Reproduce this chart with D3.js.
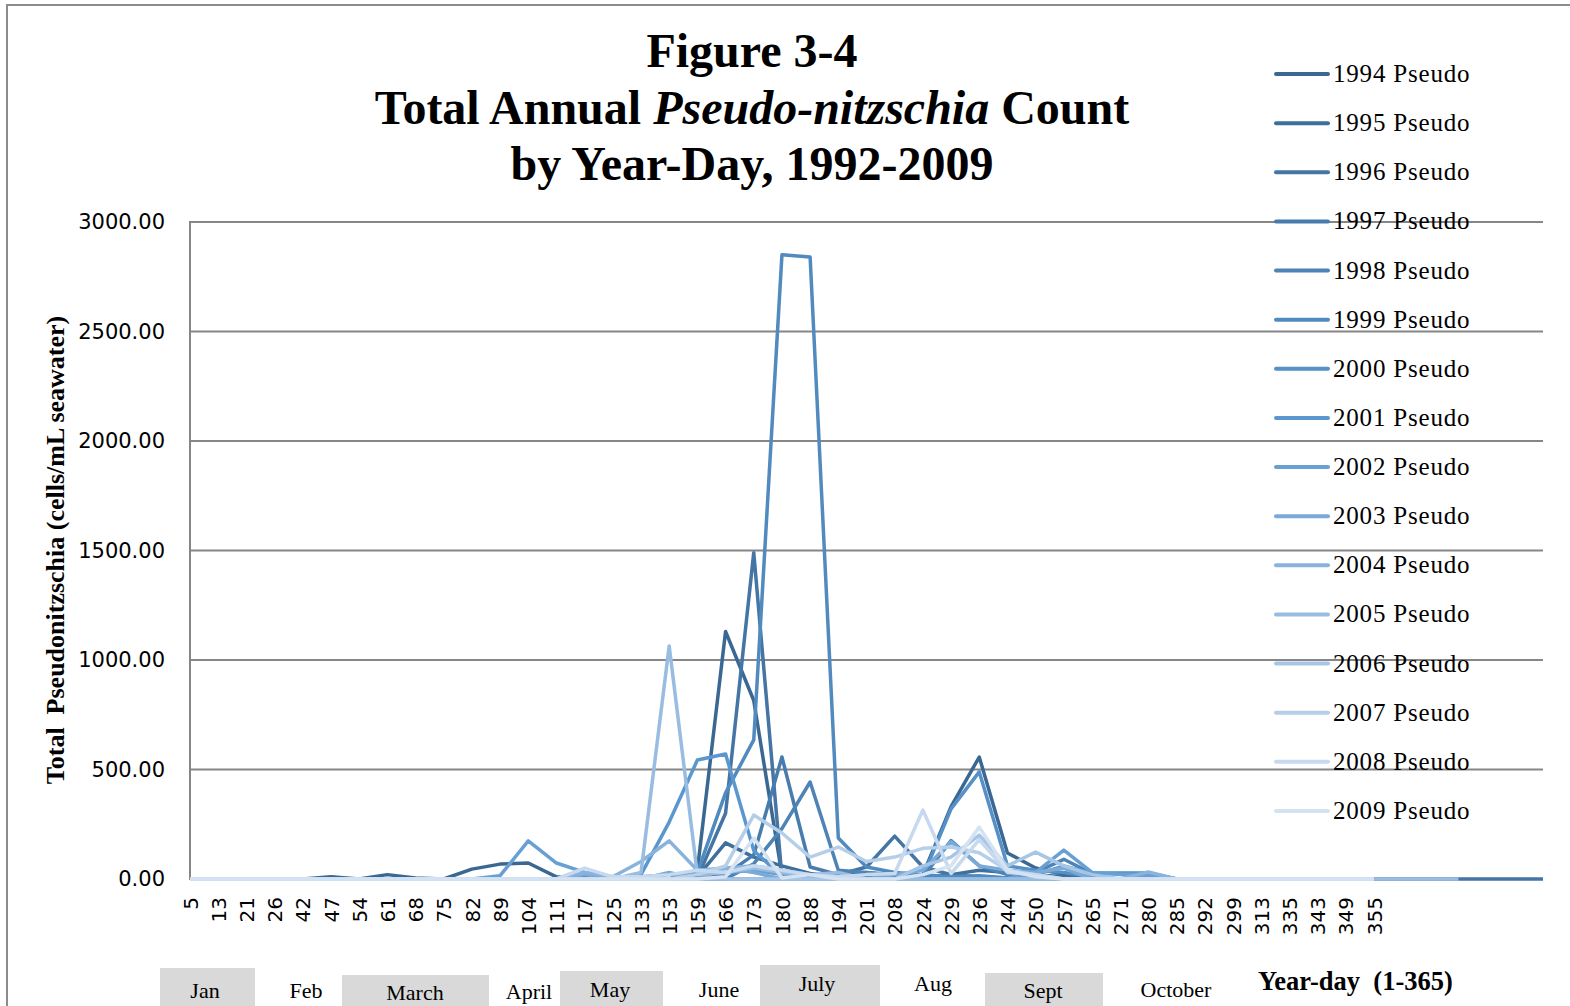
<!DOCTYPE html>
<html>
<head>
<meta charset="utf-8">
<script src="https://cdn.jsdelivr.net/npm/d3@7"></script>
<style>
  body { margin: 0; background: #fff; }
  svg { display: block; }
  text { white-space: pre; }
</style>
</head>
<body>
<svg id="chart" width="1570" height="1006"></svg>
<script>
// year-day categories (the last six are blank in the sheet)
const dayLabels = ["5","13","21","26","42","47","54","61","68","75","82","89","104","111","117","125","133","153","159","166","173","180","188","194","201","208","224","229","236","244","250","257","265","271","280","285","292","299","313","335","343","349","355","","","","","",""];

const years = ["1994","1995","1996","1997","1998","1999","2000","2001","2002","2003","2004","2005","2006","2007","2008","2009"];

//            5 13 21 26 42 47 54 61 68 75 | 82 89 104 111 117 125 133 153 159 166 | 173 180 188 194 201 208 224 229 236 244 | 250 257 265 271 280 285 292 299 313 335 | 343 349 355 ...
const s1994 = [0, 0, 0, 0, 0,10, 0,20, 5, 0,  45,68, 73, 10,  5,  0,  0,  0, 40,1130, 815, 20, 10,  5,  5, 10, 20,330,557,119,  50, 20,  5,  0,  0,  0,  0,  0,  0,  0,   0,  0,  0];
const s1995 = [0, 0, 0, 0, 0, 0, 0, 0, 0, 0,   0, 0,  0,  0,  0,  0,  0,  0, 10, 165, 100, 60, 25, 10, 30, 15, 10, 20, 40, 30,  20, 10,  0,  0,  0,  0,  0,  0,  0,  0,   0,  0,  0];
const s1996 = [0, 0, 0, 0, 0, 0, 0, 0, 0, 0,   0, 0,  0,  0, 10,  0,  0,  0,  5, 300,1490, 10, 15, 20, 55,196, 55, 20, 10,  5,   0,  0,  0,  0,  0,  0,  0,  0,  0,  0,   0,  0,  0, 0, 0, 0, 0, 0, 0];
const s1997 = [0, 0, 0, 0, 0, 0, 0, 0, 0, 0,   0, 0,  0,  0,  0,  0,  0,  0,  0,  20, 110,557, 55, 20, 10,  5,  5, 10,  5,  0,   0,  0,  0,  0,  0,  0,  0,  0,  0,  0,   0,  0,  0];
const s1998 = [0, 0, 0, 0, 0, 0, 0, 0, 0, 0,   0, 0,  0,  0,  0,  0,  0,  0,  0,   0,  70,230,443, 40, 30, 20, 10,175, 60, 20,  30, 90, 25, 25, 25,  0,  0,  0,  0,  0,   0,  0,  0];
const s1999 = [0, 0, 0, 0, 0, 0, 0, 0, 0, 0,   0, 0,  0,  0,  0,  0,  0,  0, 30, 393, 635,2850,2840,187,55, 30, 20, 10, 15,  5,   0,  0,  0,  0,  0,  0,  0,  0,  0,  0,   0,  0,  0];
const s2000 = [0, 0, 0, 0, 0, 0, 0, 0, 0, 0,   0, 0,  0,  0,  0,  0, 10,  0,  0,   0,   0,  0,  0,  0,  0,  0, 10,320,489, 60,  40, 30, 10,  0,  0,  0,  0,  0,  0,  0,   0,  0,  0];
const s2001 = [0, 0, 0, 0, 0, 0, 0, 0, 0, 0,   0, 0,  0,  0,  0,  0, 20,260,543, 571, 130, 10,  5,  5,  0,  0,  0,  0,  0,  0,  20, 60, 27, 27, 27,  0,  0,  0,  0,  0,   0,  0,  0];
const s2002 = [0, 0, 0, 0, 0, 0, 0, 0, 0, 0,   0,15,174, 73, 30,  5, 10, 20, 20,  30,  40, 20, 10,  5,  0,  0,  0,  0,  0,  0,  30,132, 30, 20, 15,  0,  0,  0,  0,  0,   0,  0,  0];
const s2003 = [0, 0, 0, 0, 0, 0, 0, 0, 0, 0,   0, 0,  0,  0, 20,  0,  0, 30,  0,  50,  30,  0,  0,  0,  0, 20, 40,170, 60, 40,  30, 50,  0,  0,  0,  0,  0,  0,  0,  0,   0,  0,  0];
const s2004 = [0, 0, 0, 0, 0, 0, 0, 0, 0, 0,   0, 0,  0,  0, 30, 10, 80,174, 40,  50,  60, 40, 20, 10,  0,  0,  0,  0,  0,  0,   0,  0,  0,  0, 32,  0,  0,  0,  0,  0,   0,  0,  0];
const s2005 = [0, 0, 0, 0, 0, 0, 0, 0, 0, 0,   0, 0,  0,  0,  0,  0, 30,1064,20, 30,  50, 30, 20, 30,  0,  0,  0,  0,  0,  0,   0,  0,  0,  0,  0,  0,  0,  0,  0,  0,   0,  0,  0, 0, 0, 0];
const s2006 = [0, 0, 0, 0, 0, 0, 0, 0, 0, 0,   0, 0,  0,  0,  0,  0,  0,  0,  0,   0,   0,  0,  0,  0,  0,  0, 60,100,200, 60, 123, 60, 20,  0,  0,  0,  0,  0,  0,  0,   0,  0,  0];
const s2007 = [0, 0, 0, 0, 0, 0, 0, 0, 0, 0,   0, 0,  0,  0,  0,  0,  0,  0, 20,  60, 292,210,100,146, 80,100,140,146,120, 40,  20,  0,  0,  0,  0,  0,  0,  0,  0,  0,   0,  0,  0];
const s2008 = [0, 0, 0, 0, 0, 0, 0, 0, 0, 0,   0, 0,  0,  0, 50, 10, 10, 20, 40,  30,  60, 40, 20, 10, 20, 25,315, 25,180, 30,  20,  0,  0,  0,  0,  0,  0,  0,  0,  0,   0,  0,  0];
const s2009 = [0, 0, 0, 0, 0, 0, 0, 0, 0, 0,   0, 0,  0,  0,  0,  0,  0,  0,  0,  10, 187,  5, 20,  0,  0,  0, 20, 60,237, 40,  10,  0,  0,  0,  0,  0,  0,  0,  0,  0,   0,  0,  0];

const yTicks = [0, 500, 1000, 1500, 2000, 2500, 3000];
const months = ["Jan","Feb","March","April","May","June","July","Aug","Sept","October"];

const seriesValues = [s1994,s1995,s1996,s1997,s1998,s1999,s2000,s2001,s2002,s2003,s2004,s2005,s2006,s2007,s2008,s2009];

// ---- layout ----
const plot = { left: 190, right: 1543, top: 222, bottom: 879 };
const monthBoxes = [ // [centre x, baseline, box x0, box x1, box top] ; null box = no fill
  [205, 998, 160, 255, 968], [306, 998, null], [415, 1000, 342, 489, 975], [529, 999, null],
  [610, 997, 560, 663, 971], [719, 997, null], [817, 991, 760, 880, 965], [933, 991, null],
  [1043, 998, 985, 1103, 973], [1176, 997, null]
];

const svg = d3.select("#chart");

// outer chart frame
svg.append("rect").attr("x", 7).attr("y", 5).attr("width", 1640).attr("height", 1100)
  .attr("fill", "none").attr("stroke", "#8c8c8c").attr("stroke-width", 2);

const x = d3.scalePoint().domain(d3.range(dayLabels.length)).range([plot.left, plot.right]);
const y = d3.scaleLinear().domain([0, 3000]).range([plot.bottom, plot.top]);

const color = d3.scaleLinear().domain([0, 7, 15])
  .range(["#3b6893", "#5a97cf", "#d5e2f2"]).interpolate(d3.interpolateRgb);

// gridlines
svg.append("g").selectAll("line").data(yTicks.filter(d => d > 0)).join("line")
  .attr("x1", plot.left).attr("x2", plot.right)
  .attr("y1", d => y(d)).attr("y2", d => y(d))
  .attr("stroke", "#868686").attr("stroke-width", 2);

// y axis
const yAxis = svg.append("g").attr("transform", `translate(${plot.left},0)`)
  .call(d3.axisLeft(y).tickValues(yTicks).tickFormat(d3.format(".2f")).tickSize(0).tickPadding(25));
yAxis.select(".domain").remove();
yAxis.selectAll("text").attr("font-family", "DejaVu Sans").attr("font-size", 21).attr("fill", "#000");

svg.append("line").attr("x1", plot.left).attr("x2", plot.left)
  .attr("y1", plot.top - 1).attr("y2", plot.bottom + 1)
  .attr("stroke", "#868686").attr("stroke-width", 2);
svg.append("line").attr("x1", plot.left).attr("x2", plot.right)
  .attr("y1", plot.bottom).attr("y2", plot.bottom)
  .attr("stroke", "#868686").attr("stroke-width", 2);

// x axis
const xAxis = svg.append("g").attr("transform", `translate(0,${plot.bottom})`)
  .call(d3.axisBottom(x).tickSize(0).tickFormat(i => dayLabels[i]));
xAxis.select(".domain").remove();
xAxis.selectAll("text")
  .attr("transform", "rotate(-90)")
  .attr("x", -18).attr("y", 0).attr("dy", "0.36em")
  .attr("text-anchor", "end")
  .attr("font-family", "DejaVu Sans").attr("font-size", 20).attr("fill", "#000");

// series
const line = d3.line().x((d, i) => x(i)).y(d => y(d));
svg.append("g").selectAll("path").data(seriesValues).join("path")
  .attr("d", d => line(d))
  .attr("fill", "none")
  .attr("stroke", (d, i) => color(i))
  .attr("stroke-width", 3.5)
  .attr("stroke-linejoin", "round");

// legend
const legend = svg.append("g").selectAll("g").data(years).join("g")
  .attr("transform", (d, i) => `translate(1276,${74 + i * 49.13})`);
legend.append("line").attr("x1", 0).attr("x2", 52)
  .attr("stroke", (d, i) => color(i)).attr("stroke-width", 4).attr("stroke-linecap", "round");
legend.append("text").attr("x", 57).attr("y", 8)
  .attr("font-family", "Liberation Serif").attr("font-size", 25).attr("letter-spacing", 0.8)
  .text(d => d + " Pseudo");

// title
const title = svg.append("text").attr("text-anchor", "middle")
  .attr("font-family", "Liberation Serif").attr("font-weight", "bold").attr("font-size", 48);
title.append("tspan").attr("x", 752).attr("y", 67).text("Figure 3-4");
const t2 = title.append("tspan").attr("x", 752).attr("y", 124);
t2.append("tspan").text("Total Annual ");
t2.append("tspan").attr("font-style", "italic").text("Pseudo-nitzschia");
t2.append("tspan").text(" Count");
title.append("tspan").attr("x", 752).attr("y", 180).text("by Year-Day, 1992-2009");

// y axis title
svg.append("text")
  .attr("transform", "translate(55,550) rotate(-90)")
  .attr("text-anchor", "middle").attr("dy", "0.35em")
  .attr("font-family", "Liberation Serif").attr("font-weight", "bold").attr("font-size", 26)
  .text("Total  Pseudonitzschia (cells/mL seawater)");

// month labels under the axis
const mg = svg.append("g");
monthBoxes.forEach((b, i) => {
  if (b[2] !== null) {
    mg.append("rect").attr("x", b[2]).attr("y", b[4]).attr("width", b[3] - b[2]).attr("height", 1040 - b[4])
      .attr("fill", "#d9d9d9");
  }
  mg.append("text").attr("x", b[0]).attr("y", b[1]).attr("text-anchor", "middle")
    .attr("font-family", "Liberation Serif").attr("font-size", 22).text(months[i]);
});
svg.append("text").attr("x", 1258).attr("y", 990)
  .attr("font-family", "Liberation Serif").attr("font-weight", "bold").attr("font-size", 26.5)
  .text("Year-day  (1-365)");
</script>
</body>
</html>
